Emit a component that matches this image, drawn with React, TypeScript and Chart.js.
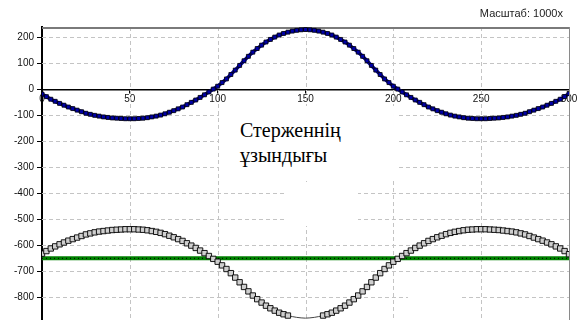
import React, { useEffect, useRef } from "react";
import { Chart, registerables } from "chart.js";

Chart.register(...registerables);

// positions along the rod (x axis)
const xPositions = [
  0, 2.5, 5, 7.5, 10, 12.5, 15, 17.5, 20, 22.5, 25, 27.5, 30, 32.5, 35, 37.5, 40, 42.5, 45, 47.5,
  50, 52.5, 55, 57.5, 60, 62.5, 65, 67.5, 70, 72.5, 75, 77.5, 80, 82.5, 85, 87.5, 90, 92.5, 95, 97.5,
  100, 102.5, 105, 107.5, 110, 112.5, 115, 117.5, 120, 122.5, 125, 127.5, 130, 132.5, 135, 137.5, 140, 142.5, 145, 147.5,
  150, 152.5, 155, 157.5, 160, 162.5, 165, 167.5, 170, 172.5, 175, 177.5, 180, 182.5, 185, 187.5, 190, 192.5, 195, 197.5,
  200, 202.5, 205, 207.5, 210, 212.5, 215, 217.5, 220, 222.5, 225, 227.5, 230, 232.5, 235, 237.5, 240, 242.5, 245, 247.5,
  250, 252.5, 255, 257.5, 260, 262.5, 265, 267.5, 270, 272.5, 275, 277.5, 280, 282.5, 285, 287.5, 290, 292.5, 295, 297.5,
  300,
];

// upper (blue) curve
const upperCurve = [
  -18, -28, -38, -46, -54, -61, -68, -74, -80, -86,
  -92, -96, -100, -103, -106, -108, -110, -111, -112, -113,
  -113, -113, -112, -111, -109, -106, -103, -99, -94, -88,
  -82, -75, -68, -59, -50, -41, -31, -21, -10, 1,
  12, 26, 40, 57, 74, 92, 110, 127, 143, 157,
  170, 182, 192, 201, 209, 215, 220, 224, 227, 229,
  230,
  229, 227, 224, 220, 215, 209, 201, 192, 182, 170,
  157, 143, 127, 110, 92, 74, 57, 40, 26, 12,
  1, -10, -21, -31, -41, -50, -59, -68, -75, -82,
  -88, -94, -99, -103, -106, -109, -111, -112, -113, -113,
  -113, -112, -111, -110, -108, -106, -103, -100, -96, -92,
  -86, -80, -74, -68, -61, -54, -46, -38, -28, -16,
];

// lower (grey squares) curve
const lowerCurve = [
  -632, -622, -612, -604, -596, -589, -582, -576, -570, -564,
  -558, -554, -550, -547, -545, -543, -541, -540, -539, -538,
  -538, -538, -539, -540, -542, -545, -548, -552, -557, -563,
  -569, -576, -583, -592, -601, -610, -620, -630, -641, -652,
  -663, -677, -691, -707, -724, -742, -760, -777, -793, -807,
  -820, -832, -842, -851, -859, -865, -870, -874, -877, -879,
  -880,
  -879, -877, -874, -870, -865, -859, -851, -842, -832, -820,
  -807, -793, -777, -760, -742, -724, -707, -691, -677, -663,
  -652, -641, -630, -620, -610, -601, -592, -583, -576, -569,
  -563, -557, -552, -548, -545, -542, -540, -539, -538, -538,
  -538, -539, -540, -541, -543, -545, -547, -550, -554, -558,
  -564, -570, -576, -582, -589, -596, -604, -612, -622, -634,
];

// constant green level
const levelX = [0, 300];
const levelY = [-650, -650];

const xTickValues = [0, 50, 100, 150, 200, 250, 300];
const yTickValues = [200, 100, 0, -100, -200, -300, -400, -500, -600, -700, -800];

const scaleText = "Масштаб: 1000x";
const rodLabelLines = ["Стерженнің", "ұзындығы"];

const gridPlugin = {
  id: "dashedGrid",
  beforeDatasetsDraw(chart: any) {
    const { ctx, chartArea: a, scales } = chart;
    const xs = scales.x;
    const ys = scales.y;
    const bottom = chart.height;
    ctx.save();
    ctx.strokeStyle = "#c4c4c4";
    ctx.lineWidth = 1;
    ctx.setLineDash([4, 3]);
    for (const v of xTickValues) {
      if (v === 0 || v === 300) continue;
      const px = Math.round(xs.getPixelForValue(v)) + 0.5;
      ctx.beginPath();
      ctx.moveTo(px, a.top);
      ctx.lineTo(px, bottom);
      ctx.stroke();
    }
    for (const v of yTickValues) {
      if (v === 0) continue;
      const py = Math.round(ys.getPixelForValue(v)) + 0.5;
      ctx.beginPath();
      ctx.moveTo(a.left, py);
      ctx.lineTo(a.right, py);
      ctx.stroke();
    }
    ctx.setLineDash([]);
    ctx.strokeStyle = "#7a7a7a";
    ctx.lineWidth = 2;
    ctx.beginPath();
    ctx.moveTo(a.left, a.top + 1);
    ctx.lineTo(a.right, a.top + 1);
    ctx.stroke();
    ctx.lineWidth = 1;
    ctx.strokeStyle = "#8a8a8a";
    ctx.beginPath();
    ctx.moveTo(a.right + 0.5, a.top);
    ctx.lineTo(a.right + 0.5, bottom);
    ctx.stroke();
    // continue the left axis line to the bottom edge
    ctx.strokeStyle = "#000";
    ctx.lineWidth = 2;
    ctx.beginPath();
    ctx.moveTo(Math.round(a.left), a.bottom - 1);
    ctx.lineTo(Math.round(a.left), bottom);
    ctx.stroke();
    ctx.restore();
  },
};

export default function App() {
  const canvasRef = useRef<HTMLCanvasElement | null>(null);

  useEffect(() => {
    if (!canvasRef.current) return;
    Chart.defaults.font.family = 'Arial, "Liberation Sans", sans-serif';
    const clipArea = { left: 0, top: 0, right: 0, bottom: 14 };
    const chart = new Chart(canvasRef.current, {
      type: "line",
      data: {
        datasets: [
          {
            label: "upper",
            data: xPositions.map((x, i) => ({ x, y: upperCurve[i] })),
            borderColor: "#0000a0",
            borderWidth: 3.5,
            pointStyle: "rect",
            pointRadius: 2.8,
            pointBackgroundColor: "#0000a8",
            pointBorderColor: "#000",
            pointBorderWidth: 0.8,
            tension: 0,
            clip: clipArea,
          },
          {
            label: "lower",
            data: xPositions.map((x, i) => ({ x, y: lowerCurve[i] })),
            borderColor: "#444",
            borderWidth: 1,
            pointStyle: "rect",
            pointRadius: 3.8,
            pointBackgroundColor: "#cfcfcf",
            pointBorderColor: "#000",
            pointBorderWidth: 0.9,
            tension: 0,
            clip: clipArea,
          },
          {
            label: "levelDots",
            data: levelX.map((x, i) => ({ x, y: levelY[i] })),
            borderColor: "#000",
            borderWidth: 1,
            borderDash: [1, 3],
            pointRadius: 0,
            clip: clipArea,
          },
          {
            label: "level",
            data: levelX.map((x, i) => ({ x, y: levelY[i] })),
            borderColor: "#008000",
            borderWidth: 4,
            pointRadius: 0,
            clip: clipArea,
          },
        ],
      },
      options: {
        animation: false,
        responsive: false,
        devicePixelRatio: 1,
        events: [],
        layout: { autoPadding: false, padding: { top: 27, right: 15, bottom: 0, left: 0 } } as any,
        plugins: { legend: { display: false }, tooltip: { enabled: false }, title: { display: false } },
        scales: {
          x: {
            type: "linear",
            min: 0,
            max: 300,
            position: { y: 0 } as any,
            afterBuildTicks: (s: any) => {
              s.ticks = xTickValues.map((v) => ({ value: v }));
            },
            ticks: { font: { size: 10 }, color: "#111", padding: 1, maxRotation: 0, autoSkip: false },
            grid: { drawOnChartArea: false, drawTicks: true, tickLength: 3, tickColor: "#000", color: "#000" },
            border: { display: true, color: "#000", width: 1.5 },
          },
          y: {
            type: "linear",
            position: "left",
            min: -852.5,
            max: 239.8,
            afterBuildTicks: (s: any) => {
              s.ticks = yTickValues.map((v) => ({ value: v }));
            },
            afterFit: (s: any) => {
              s.width = 42;
            },
            ticks: { font: { size: 10 }, color: "#111", padding: 3 },
            grid: { drawOnChartArea: false, drawTicks: true, tickLength: 5, tickColor: "#000", color: "#000" },
            border: { display: true, color: "#000", width: 2 },
          },
        },
      },
      plugins: [gridPlugin],
    });
    return () => chart.destroy();
  }, []);

  return (
    <div style={{ position: "fixed", left: 0, top: 0, width: 584, height: 320, background: "#fff", overflow: "hidden" }}>
      <canvas ref={canvasRef} width={584} height={320} style={{ display: "block" }} />
      <div
        style={{
          position: "absolute",
          right: 21,
          top: 7,
          font: '11px Arial, "Liberation Sans", sans-serif',
          lineHeight: "13px",
          color: "#222",
          whiteSpace: "nowrap",
        }}
      >
        {scaleText}
      </div>
      <div style={{ position: "absolute", left: 284, top: 182, width: 74, height: 44, background: "#fff" }} />
      <div style={{ position: "absolute", left: 408, top: 291, width: 54, height: 12, background: "#fff" }} />
      <div
        style={{
          position: "absolute",
          left: 219,
          top: 106,
          width: 180,
          height: 72,
          background: "#fff",
        }}
      >
        <div
          style={{
            position: "absolute",
            left: 21,
            top: 12,
            font: '20px "Liberation Serif", "Times New Roman", serif',
            lineHeight: "25px",
            color: "#000",
            whiteSpace: "nowrap",
          }}
        >
          {rodLabelLines.map((l) => (
            <div key={l}>{l}</div>
          ))}
        </div>
      </div>
    </div>
  );
}
